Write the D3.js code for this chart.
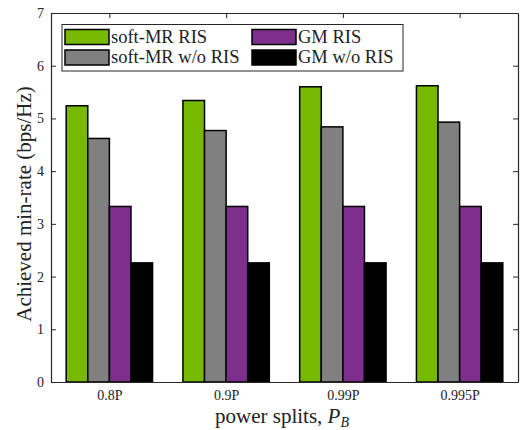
<!DOCTYPE html>
<html>
<head>
<meta charset="utf-8">
<script src="https://cdn.jsdelivr.net/npm/d3@7"></script>
<style>
  html, body { margin: 0; padding: 0; background: #fff; }
  svg { display: block; }
  text { font-family: "Liberation Serif", "DejaVu Serif", serif; fill: #222; }
</style>
</head>
<body>
<svg id="chart" width="521" height="430"></svg>
<script>
// Power-split cases on the x axis
const categories = ["0.8P", "0.9P", "0.99P", "0.995P"];
// Achieved min-rate (bps/Hz) per scheme
const softMrRis    = [5.24, 5.34, 5.60, 5.62];
const softMrNoRis  = [4.62, 4.77, 4.84, 4.93];
const gmRis        = [3.33, 3.33, 3.33, 3.33];
const gmNoRis      = [2.26, 2.26, 2.26, 2.26];
const seriesNames  = ["soft-MR RIS", "soft-MR w/o RIS", "GM RIS", "GM w/o RIS"];
const seriesColors = ["#77b900", "#808080", "#7e2f8e", "#000000"];
const yTicks = [0, 1, 2, 3, 4, 5, 6, 7];

const series = [softMrRis, softMrNoRis, gmRis, gmNoRis];

const svg = d3.select("#chart");
const m = { left: 51, right: 518, top: 13, bottom: 382 };

// Continuous x so groups sit at 1..4 with limits 0.5..4.5
const x = d3.scaleLinear().domain([0.5, 4.5]).range([m.left, m.right]);
const y = d3.scaleLinear().domain([0, 7]).range([m.bottom, m.top]);

const groupW = 0.74;
const barW = groupW / series.length;

// Bars
series.forEach((vals, si) => {
  svg.append("g")
    .selectAll("rect")
    .data(vals)
    .join("rect")
    .attr("x", (d, i) => x(i + 1 - groupW / 2 + si * barW))
    .attr("width", x(barW) - x(0))
    .attr("y", d => y(d))
    .attr("height", d => y(0) - y(d))
    .attr("fill", seriesColors[si])
    .attr("stroke", "#000")
    .attr("stroke-width", 1.5);
});

// Axes (box with ticks on all sides)
const tickFmt = d3.format("d");
const xTickVals = categories.map((c, i) => i + 1);

const axB = svg.append("g").attr("transform", `translate(0,${m.bottom})`)
  .call(d3.axisBottom(x).tickValues(xTickVals).tickFormat((d, i) => categories[i])
    .tickSizeInner(-5).tickSizeOuter(0).tickPadding(8));
const axT = svg.append("g").attr("transform", `translate(0,${m.top})`)
  .call(d3.axisTop(x).tickValues(xTickVals).tickFormat("").tickSizeInner(-5).tickSizeOuter(0));
const axL = svg.append("g").attr("transform", `translate(${m.left},0)`)
  .call(d3.axisLeft(y).tickValues(yTicks).tickFormat(tickFmt)
    .tickSizeInner(-5).tickSizeOuter(0).tickPadding(7));
const axR = svg.append("g").attr("transform", `translate(${m.right},0)`)
  .call(d3.axisRight(y).tickValues(yTicks).tickFormat("").tickSizeInner(-5).tickSizeOuter(0));

[axB, axT, axL, axR].forEach(a => {
  a.selectAll(".domain").attr("stroke", "#262626").attr("stroke-width", 1.2);
  a.selectAll(".tick line").attr("stroke", "#262626").attr("stroke-width", 1);
  a.selectAll("text").attr("font-size", 14).attr("fill", "#262626")
    .style("font-family", "'Liberation Serif', serif");
});

// Axis titles
svg.append("text")
  .attr("transform", `translate(24,204) rotate(-90)`)
  .attr("text-anchor", "middle")
  .attr("dominant-baseline", "central")
  .attr("font-size", 21)
  .text("Achieved min-rate (bps/Hz)");

const xl = svg.append("text")
  .attr("x", 282)
  .attr("y", 423)
  .attr("text-anchor", "middle")
  .attr("font-size", 21);
xl.append("tspan").text("power splits, ");
xl.append("tspan").attr("font-style", "italic").text("P");
xl.append("tspan").attr("font-style", "italic").attr("font-size", 14).attr("dy", 4).text("B");

// Legend
const lg = svg.append("g");
lg.append("rect")
  .attr("x", 62).attr("y", 24.5).attr("width", 341).attr("height", 46.5)
  .attr("fill", "#fff").attr("stroke", "#262626").attr("stroke-width", 1);

const colX = [65, 252];
const rowY = [29.5, 50];
const order = [[0, 0], [0, 1], [1, 0], [1, 1]]; // [col,row] per series
seriesNames.forEach((name, si) => {
  const [c, r] = order[si];
  lg.append("rect")
    .attr("x", colX[c]).attr("y", rowY[r])
    .attr("width", 44).attr("height", 15)
    .attr("fill", seriesColors[si])
    .attr("stroke", "#000").attr("stroke-width", 1.5);
  lg.append("text")
    .attr("x", colX[c] + 46).attr("y", rowY[r] + 13)
    .attr("font-size", 18.5)
    .attr("fill", "#000")
    .text(name);
});
</script>
</body>
</html>
